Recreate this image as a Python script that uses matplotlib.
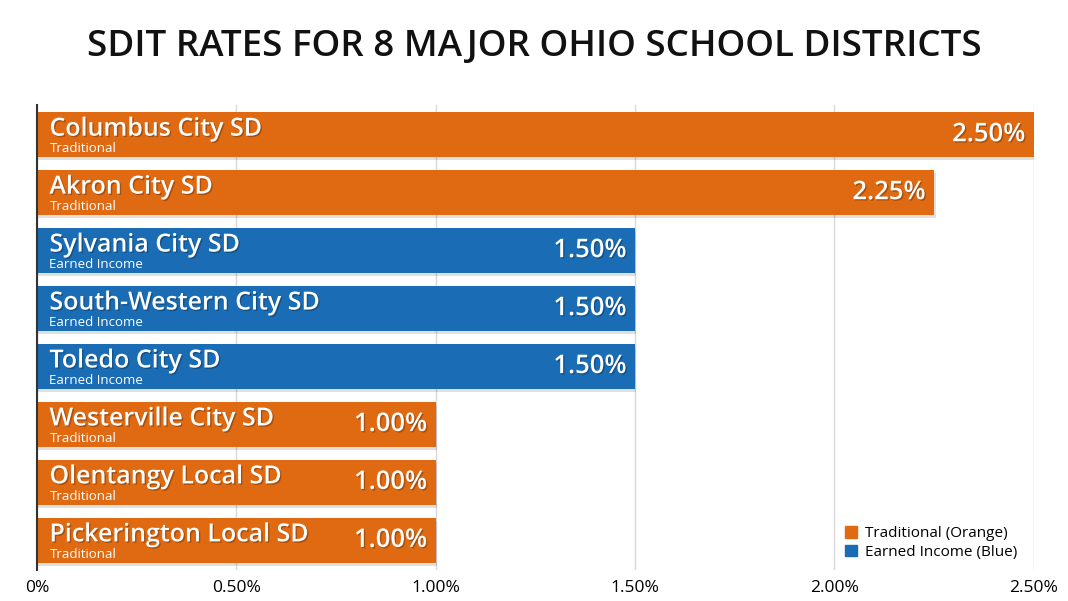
import numpy as np
import matplotlib
matplotlib.use('Agg')
import matplotlib.pyplot as plt
import matplotlib.patheffects as pe
from matplotlib.patches import Patch

plt.rcParams['font.family'] = ['Open Sans', 'DejaVu Sans']

districts = ['Columbus City SD', 'Akron City SD', 'Sylvania City SD', 'South-Western City SD',
             'Toledo City SD', 'Westerville City SD', 'Olentangy Local SD', 'Pickerington Local SD']
rates = [2.50, 2.25, 1.50, 1.50, 1.50, 1.00, 1.00, 1.00]
kinds = ['Traditional', 'Traditional', 'Earned Income', 'Earned Income', 'Earned Income',
         'Traditional', 'Traditional', 'Traditional']
xticks = [0, 0.5, 1.0, 1.5, 2.0, 2.5]
xticklabels = ['0%', '0.50%', '1.00%', '1.50%', '2.00%', '2.50%']

orange = '#E06A12'
blue = '#1A6DB5'
colors = [orange if k == 'Traditional' else blue for k in kinds]

fig = plt.figure(figsize=(10.68, 6.01), dpi=100)
ax = fig.add_axes([0.0346, 0.0516, 0.9334, 0.7734])

y = np.arange(len(districts))
shadow = [pe.SimplePatchShadow(offset=(1, -2), shadow_rgbFace='#000000', alpha=0.12), pe.Normal()]
bars = ax.barh(y, rates, height=0.78, color=colors, zorder=3)
for b in bars:
    b.set_path_effects(shadow)

def txt_fx():
    return [pe.withSimplePatchShadow(offset=(1, -1), shadow_rgbFace='#000000', alpha=0.25)]

for i, (name, rate, kind) in enumerate(zip(districts, rates, kinds)):
    ax.annotate(name, xy=(0, i), xytext=(9, 4), textcoords='offset points',
                ha='left', va='center', fontsize=18, fontweight='semibold', color='white', zorder=5,
                path_effects=txt_fx())
    ax.annotate(kind, xy=(0, i), xytext=(9, -10), textcoords='offset points',
                ha='left', va='center', fontsize=9.5, color='white', zorder=5)
    ax.annotate(f'{rate:.2f}%', xy=(rate, i), xytext=(-6, 0), textcoords='offset points',
                ha='right', va='center', fontsize=18.5, fontweight='semibold', color='white', zorder=5,
                path_effects=txt_fx())

ax.set_xlim(0, 2.5)
ax.set_ylim(7.51, -0.51)
ax.set_xticks(xticks)
ax.set_xticklabels(xticklabels, fontsize=12.5)
ax.set_yticks([])
ax.tick_params(axis='x', length=0, pad=7)
ax.grid(axis='x', color='#d9d9d9', linewidth=1, zorder=0)
for s in ['top', 'right', 'bottom']:
    ax.spines[s].set_visible(False)
ax.spines['left'].set_color('#333333')
ax.spines['left'].set_linewidth(1.5)
ax.spines['left'].set_zorder(4)

handles = [Patch(color=orange, label='Traditional (Orange)'),
           Patch(color=blue, label='Earned Income (Blue)')]
ax.legend(handles=handles, loc='lower right', frameon=False, fontsize=11,
          handlelength=0.8, handleheight=0.8, handletextpad=0.5, labelspacing=0.25,
          bbox_to_anchor=(0.997, -0.008))

fig.text(0.5, 0.922, 'SDIT RATES FOR 8 MAJOR OHIO SCHOOL DISTRICTS', ha='center', va='center',
         fontsize=26.5, fontweight='semibold', color='#111111')

fig.savefig('out.png', dpi=100)
